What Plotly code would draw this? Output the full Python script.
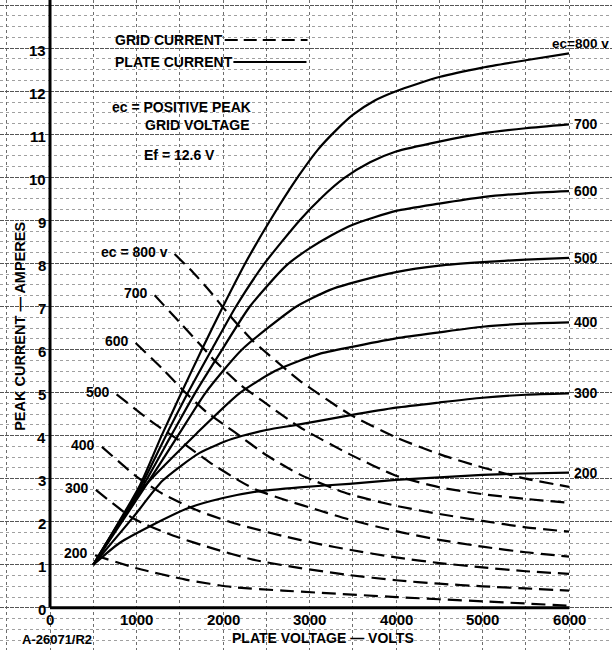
import plotly.graph_objects as go

# ---------------- data ----------------
grid_voltages = [800, 700, 600, 500, 400, 300, 200]

# Plate current (solid) curves: plate voltage (V) -> peak current (A)
plate_800_v = [500, 1040, 1290, 1520, 1760, 2000, 2270, 2560, 2870, 3100, 3300, 3500, 3750, 4000, 4500, 5000, 5500, 6000]
plate_800_i = [1.0, 2.85, 4.0, 5.0, 6.02, 7.0, 8.05, 9.05, 10.02, 10.65, 11.08, 11.45, 11.78, 12.0, 12.33, 12.55, 12.72, 12.88]

plate_700_v = [500, 1050, 1340, 1596, 1870, 2150, 2480, 2885, 3150, 3400, 3700, 4000, 4500, 5000, 5500, 6000]
plate_700_i = [1.0, 2.82, 4.0, 5.0, 6.0, 7.0, 8.0, 9.0, 9.55, 9.98, 10.35, 10.6, 10.83, 11.02, 11.14, 11.23]

plate_600_v = [500, 1060, 1400, 1680, 1990, 2310, 2730, 3000, 3250, 3500, 4000, 4500, 5000, 5500, 6000]
plate_600_i = [1.0, 2.78, 4.0, 5.0, 6.0, 7.0, 7.95, 8.35, 8.65, 8.9, 9.22, 9.39, 9.54, 9.63, 9.68]

plate_500_v = [500, 1070, 1480, 1800, 2220, 2850, 3230, 3461, 4000, 4500, 5000, 5500, 6000]
plate_500_i = [1.0, 2.72, 4.0, 5.0, 6.0, 7.0, 7.38, 7.53, 7.8, 7.95, 8.03, 8.09, 8.13]

plate_400_v = [500, 1040, 1720, 2200, 2600, 2885, 3115, 3461, 4000, 4500, 5000, 5500, 6000]
plate_400_i = [1.0, 2.7, 4.1, 5.0, 5.5, 5.74, 5.9, 6.05, 6.26, 6.4, 6.53, 6.6, 6.63]

plate_300_v = [500, 960, 1300, 1730, 2100, 2500, 2885, 3461, 4000, 4500, 5000, 5500, 6000]
plate_300_i = [1.0, 2.1, 2.95, 3.6, 3.92, 4.13, 4.26, 4.47, 4.65, 4.77, 4.88, 4.95, 4.98]

plate_200_v = [500, 800, 1190, 1615, 2000, 2385, 2885, 3461, 4000, 4500, 5000, 5500, 6000]
plate_200_i = [1.0, 1.5, 1.93, 2.33, 2.55, 2.7, 2.8, 2.88, 2.97, 3.03, 3.09, 3.12, 3.14]

# Grid current (dashed) curves
grid_800_v = [1440, 1650, 1846, 2000, 2170, 2345, 2540, 2885, 3461, 4000, 4500, 5000, 5500, 6000]
grid_800_i = [8.22, 7.8, 7.36, 6.98, 6.58, 6.2, 5.86, 5.28, 4.5, 3.96, 3.57, 3.26, 3.0, 2.81]

grid_700_v = [1210, 1500, 1770, 1885, 2190, 2460, 2885, 3461, 4000, 4500, 5000, 5500, 6000]
grid_700_i = [7.26, 6.63, 6.04, 5.78, 5.2, 4.8, 4.2, 3.57, 3.07, 2.8, 2.64, 2.53, 2.44]

grid_600_v = [990, 1300, 1540, 1808, 2135, 2500, 2885, 3461, 4000, 4500, 5000, 5500, 6000]
grid_600_i = [6.15, 5.55, 5.05, 4.55, 4.08, 3.55, 3.1, 2.64, 2.37, 2.18, 2.02, 1.87, 1.77]

grid_500_v = [770, 1190, 1500, 1846, 2190, 2385, 2730, 3115, 3461, 4000, 4500, 5000, 5500, 6000]
grid_500_i = [4.96, 4.3, 3.88, 3.38, 2.95, 2.74, 2.5, 2.26, 2.05, 1.78, 1.58, 1.42, 1.29, 1.19]

grid_400_v = [600, 1000, 1300, 1730, 2190, 2690, 3115, 3461, 4000, 4500, 5000, 5500, 6000]
grid_400_i = [3.74, 3.05, 2.65, 2.24, 1.93, 1.67, 1.48, 1.35, 1.17, 1.04, 0.94, 0.85, 0.79]

grid_300_v = [530, 960, 1420, 1880, 2345, 2808, 3461, 4000, 4500, 5000, 5500, 6000]
grid_300_i = [2.74, 2.08, 1.68, 1.38, 1.12, 0.95, 0.76, 0.64, 0.56, 0.5, 0.45, 0.40]

grid_200_v = [520, 1000, 1580, 2115, 2690, 3115, 4000, 5000, 6000]
grid_200_i = [1.22, 0.92, 0.65, 0.48, 0.4, 0.35, 0.25, 0.15, 0.05]

x_ticks = [0, 1000, 2000, 3000, 4000, 5000, 6000]
x_tick_labels = ["0", "1000", "2000", "3000", "4000", "5000", "6000"]
y_ticks = list(range(0, 14))
y_tick_labels = [str(v) for v in y_ticks]

plate_curves = [
    (plate_800_v, plate_800_i), (plate_700_v, plate_700_i), (plate_600_v, plate_600_i),
    (plate_500_v, plate_500_i), (plate_400_v, plate_400_i), (plate_300_v, plate_300_i),
    (plate_200_v, plate_200_i),
]
grid_curves = [
    (grid_800_v, grid_800_i), (grid_700_v, grid_700_i), (grid_600_v, grid_600_i),
    (grid_500_v, grid_500_i), (grid_400_v, grid_400_i), (grid_300_v, grid_300_i),
    (grid_200_v, grid_200_i),
]

# ---------------- figure ----------------
FONT = "Liberation Sans, Arial, Helvetica, sans-serif"
fig = go.Figure()

for v, i in plate_curves:
    fig.add_trace(go.Scatter(x=v, y=i, mode="lines", showlegend=False, hoverinfo="skip",
                             line=dict(color="black", width=2.2, shape="spline", smoothing=0.6)))
for v, i in grid_curves:
    fig.add_trace(go.Scatter(x=v, y=i, mode="lines", showlegend=False, hoverinfo="skip",
                             line=dict(color="black", width=2.2, dash="14px,7px",
                                       shape="spline", smoothing=0.6)))

def txt(x, y, s, xanchor="center", size=13, angle=0, yshift=0):
    fig.add_annotation(x=x, y=y, text=s, showarrow=False, xanchor=xanchor, yanchor="middle",
                       textangle=angle, yshift=yshift,
                       font=dict(family=FONT, size=size, color="black", weight="bold"))

# right-hand labels for plate-current curves
for (v, i), g in zip(plate_curves, grid_voltages):
    if g == 800:
        txt(6485, 13.12, "ec=800 v", xanchor="right", size=13.5)
    else:
        txt(v[-1] + 30, i[-1], str(g), xanchor="left", size=14)

# left-hand labels for grid-current curves
for (v, i), g in zip(grid_curves, grid_voltages):
    s = "ec = 800 v" if g == 800 else str(g)
    txt(v[0] - 55, i[0] + 0.05, s, xanchor="right", size=14)

# tick labels
for t, s in zip(y_ticks, y_tick_labels):
    txt(-25, t, s, xanchor="right", size=15, yshift=-2)
for t, s in zip(x_ticks, x_tick_labels):
    txt(t, -0.26, s, size=15)

# legend / notes
txt(728, 13.19, "GRID CURRENT", xanchor="left", size=14)
txt(728, 12.67, "PLATE CURRENT", xanchor="left", size=14)
txt(694, 11.64, "ec = POSITIVE PEAK", xanchor="left", size=14)
txt(1075, 11.21, "GRID VOLTAGE", xanchor="left", size=14)
txt(1064, 10.52, "Ef = 12.6 V", xanchor="left", size=14)

txt(-347, 6.55, "PEAK CURRENT — AMPERES", size=14.5, angle=-90)
txt(3156, -0.71, "PLATE VOLTAGE — VOLTS", size=14)
txt(-347, -0.73, "A-26071/R2", xanchor="left", size=13)

# legend sample lines, axes
fig.add_shape(type="line", x0=2020, x1=2977, y0=13.19, y1=13.19,
              line=dict(color="black", width=2, dash="13px,6px"))
fig.add_shape(type="line", x0=2120, x1=2965, y0=12.68, y1=12.68,
              line=dict(color="black", width=2))
fig.add_shape(type="line", x0=0, x1=0, y0=0, y1=14.3, line=dict(color="black", width=3))
fig.add_shape(type="line", x0=0, x1=6000, y0=0, y1=0, line=dict(color="black", width=3))

fig.update_layout(
    width=612, height=650,
    margin=dict(l=0, r=0, t=0, b=0),
    paper_bgcolor="white", plot_bgcolor="white",
    xaxis=dict(range=[-578, 6497], dtick=500, tick0=0, showticklabels=False, ticks="",
               showgrid=True, gridcolor="#6e6e6e", gridwidth=1, griddash="dot",
               zeroline=False, showline=False, fixedrange=True),
    yaxis=dict(range=[-0.98, 14.12], dtick=1, tick0=0, showticklabels=False, ticks="",
               showgrid=True, gridcolor="#555555", gridwidth=1, griddash="4px,1px",
               zeroline=False, showline=False, fixedrange=True,
               minor=dict(dtick=0.25, tick0=0, showgrid=True, gridcolor="#a0a0a0",
                          gridwidth=1, griddash="dot")),
)

fig.write_html("out.html", config={"displayModeBar": False},
               post_script="document.body.style.margin='0px';document.body.style.padding='0px';"
                           "document.body.style.overflow='hidden';")
